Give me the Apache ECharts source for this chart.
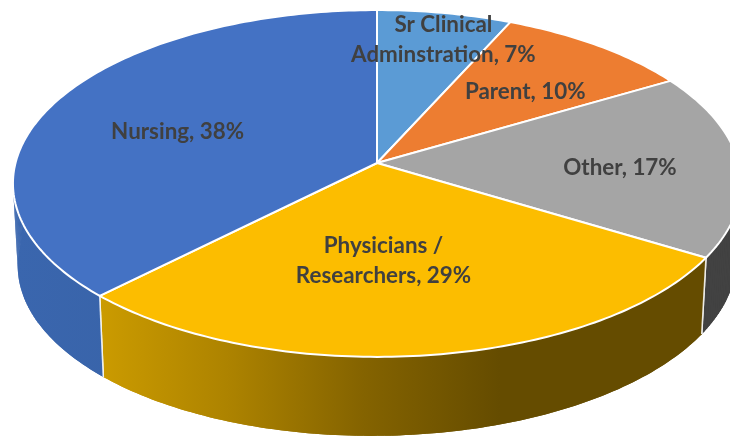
<!DOCTYPE html>
<html>
<head>
<meta charset="utf-8">
<style>
  html, body { margin: 0; padding: 0; background: #fff; }
  #chart { width: 730px; height: 436px; }
</style>
<script src="https://cdn.jsdelivr.net/npm/echarts@6/dist/echarts.min.js"></script>
</head>
<body>
<div id="chart"></div>
<script>
// clockwise from 12 o'clock, labels show the rounded percent
const categories = ['Sr Clinical\nAdminstration', 'Parent', 'Other', 'Physicians /\nResearchers', 'Nursing']
const values = [6.7, 9.8, 17.2, 28.7, 37.6]

const topColors = ['#5B9BD5', '#ED7D31', '#A5A5A5', '#FCBD00', '#4472C4']
const sideColors = [
  '#41719C',
  '#AE5A21',
  '#424242',
  [[0, '#CB9B00'], [0.32, '#AD8300'], [0.66, '#846300'], [1, '#654C00']],
  [[0, '#3A66AE'], [1, '#365F9F']]
]
// label nudges from the slice's mid point
const labelNudges = [[24, -29], [11, 1], [26, 4], [-22, -12], [-4, 7]]

// tilted disc, the far edge is foreshortened
const cx = 377
const cy = 163
const rx = 361.5
const ry = 171
const persp = 0.118
const sideDrop = 79
const sideTilt = 3
const sideScale = 0.987

const total = values.reduce((a, b) => a + b, 0)

function project(angle, r) {
  const u = r * Math.sin(angle)
  const v = r * Math.cos(angle)
  const w = 1 + persp * v
  return [cx + rx * u / w, cy - ry * v / w]
}

// same point on the bottom rim
function projectLow(angle) {
  const p = project(angle, 1)
  return [cx + (p[0] - cx) * sideScale, p[1] + sideDrop - sideTilt * Math.sin(angle)]
}

function sliceAngles(index) {
  let before = 0
  for (let i = 0; i < index; i++) before += values[i]
  return [before / total * Math.PI * 2, (before + values[index]) / total * Math.PI * 2]
}

function arcAngles(from, to) {
  const steps = Math.max(2, Math.ceil((to - from) / (Math.PI / 180)))
  const out = []
  for (let i = 0; i <= steps; i++) out.push(from + (to - from) * i / steps)
  return out
}

function renderSide(params, api) {
  const [a0, a1] = sliceAngles(params.dataIndex)
  const angles = arcAngles(a0, a1)
  const upper = angles.map(a => project(a, 1))
  const lower = angles.map(projectLow)
  const color = sideColors[params.dataIndex]
  let fill = color
  if (Array.isArray(color)) {
    const xs = lower.concat(upper).map(p => p[0])
    const left = Math.min.apply(null, xs)
    const right = params.dataIndex === 3 ? 500 : Math.max.apply(null, xs)
    fill = new echarts.graphic.LinearGradient(left, 0, right, 0,
      color.map(s => ({ offset: s[0], color: s[1] })), true)
  }
  const children = [
    { type: 'polygon', shape: { points: upper.concat(lower.slice().reverse()) }, style: { fill: fill } }
  ]
  // quads as well so the wall reaches the rim's silhouette
  for (let i = 0; i < angles.length - 1; i++) {
    children.push({
      type: 'polygon',
      shape: { points: [upper[i], upper[i + 1], lower[i + 1], lower[i]] },
      style: { fill: fill }
    })
  }
  const edge = (a) => {
    const p = project(a, 1)
    const q = projectLow(a)
    return {
      type: 'line',
      shape: { x1: p[0], y1: p[1], x2: q[0], y2: q[1] },
      style: { stroke: '#fff', lineWidth: 1.5, opacity: 0.85 }
    }
  }
  children.push(edge(a0), edge(a1))
  return { type: 'group', children: children }
}

function renderTop(params, api) {
  const [a0, a1] = sliceAngles(params.dataIndex)
  const rim = arcAngles(a0, a1).map(a => project(a, 1))
  return {
    type: 'polygon',
    shape: { points: [[cx, cy]].concat(rim) },
    style: { fill: topColors[params.dataIndex], stroke: '#fff', lineWidth: 2, lineJoin: 'round' }
  }
}

function renderLabel(params, api) {
  const i = params.dataIndex
  const [a0, a1] = sliceAngles(i)
  const mid = project((a0 + a1) / 2, 0.6)
  return {
    type: 'text',
    style: {
      text: categories[i] + ', ' + Math.round(api.value(0)) + '%',
      x: mid[0] + labelNudges[i][0],
      y: mid[1] + labelNudges[i][1],
      fill: '#404040',
      font: 'bold 22.4px Lato, sans-serif',
      lineHeight: 30,
      align: 'center',
      verticalAlign: 'middle'
    }
  }
}

var chart = echarts.init(document.getElementById('chart'))
var option = {
  animation: false,
  series: [renderSide, renderTop, renderLabel].map(fn => ({
    type: 'custom',
    coordinateSystem: 'none',
    silent: true,
    clip: false,
    renderItem: fn,
    data: values.map(v => [v])
  }))
}
chart.setOption(option)
</script>
</body>
</html>
